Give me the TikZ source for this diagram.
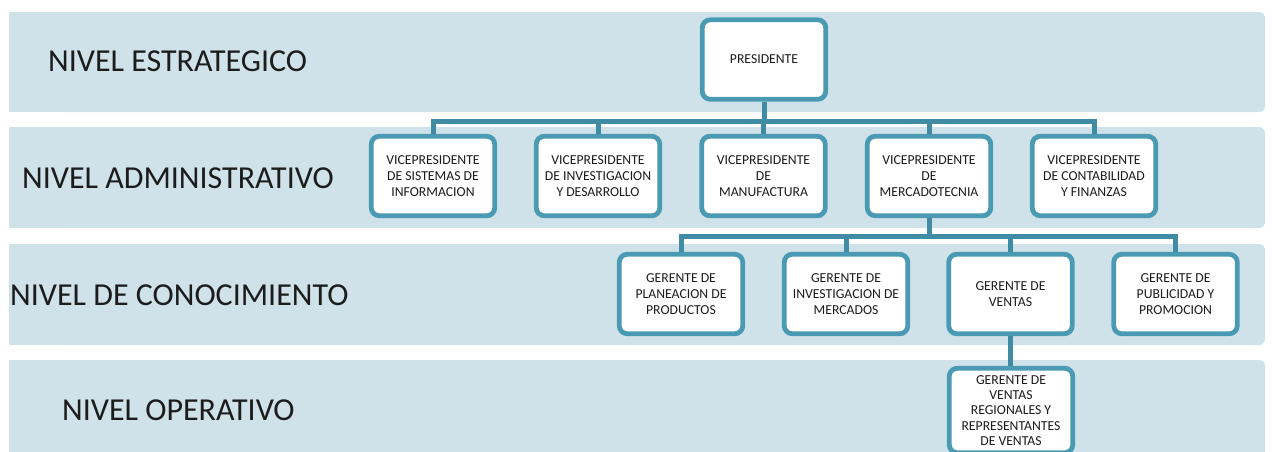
\documentclass[tikz,border=0pt]{standalone}
\usepackage{fontspec}
\setmainfont{Carlito}
\begin{document}
\definecolor{bandfill}{HTML}{D0E2E9}
\definecolor{boxline}{HTML}{4A9AB4}
\definecolor{wire}{HTML}{3F8CA4}
\definecolor{ink}{HTML}{1C1C1C}
\begin{tikzpicture}[x=1pt,y=-1pt,
  levellabel/.style={anchor=west,inner sep=0pt,text=ink,font=\fontsize{32}{34}\selectfont},
  unitbox/.style={draw=boxline,line width=4.8pt,rounded corners=8pt,fill=white,
    minimum width=123.5pt,minimum height=79.5pt,inner sep=0pt,align=center,text=ink,
    font=\fontsize{13.7}{16}\selectfont},
  link/.style={draw=wire,line width=5pt}]
\useasboundingbox (0,0) rectangle (1272,451);
\clip (0,0) rectangle (1272,451);
% level bands: square on the left, rounded on the right
\foreach \top/\bot in {12/112,127/228,244/345,360/470}{
  \fill[bandfill,rounded corners=6pt] (60,\top) rectangle (1265,\bot);
  \fill[bandfill] (9,\top) rectangle (100,\bot);
}
% level names
\node[levellabel] (l1) at (48,61) {NIVEL ESTRATEGICO};
\node[levellabel] (l2) at (22,178) {NIVEL ADMINISTRATIVO};
\node[levellabel] (l3) at (10,295) {NIVEL DE CONOCIMIENTO};
\node[levellabel] (l4) at (62,410) {NIVEL OPERATIVO};
% bus lines
\coordinate (bus1) at (764,121);
\coordinate (bus2) at (929,236);
% units
\node[unitbox] (pres) at (764,59.5) {PRESIDENTE};
\node[unitbox] (v1) at (433,176) {VICEPRESIDENTE\\DE SISTEMAS DE\\INFORMACION};
\node[unitbox] (v2) at (598,176) {VICEPRESIDENTE\\DE INVESTIGACION\\Y DESARROLLO};
\node[unitbox] (v3) at (763.5,176) {VICEPRESIDENTE\\DE\\MANUFACTURA};
\node[unitbox] (v4) at (929,176) {VICEPRESIDENTE\\DE\\MERCADOTECNIA};
\node[unitbox] (v5) at (1094,176) {VICEPRESIDENTE\\DE CONTABILIDAD\\Y FINANZAS};
\node[unitbox] (g1) at (681,294) {GERENTE DE\\PLANEACION DE\\PRODUCTOS};
\node[unitbox] (g2) at (846,294) {GERENTE DE\\INVESTIGACION DE\\MERCADOS};
\node[unitbox] (g3) at (1010.5,294) {GERENTE DE\\VENTAS};
\node[unitbox] (g4) at (1175.5,294) {GERENTE DE\\PUBLICIDAD Y\\PROMOCION};
\node[unitbox,minimum height=84.5pt,font=\fontsize{13.7}{15.2}\selectfont] (o1) at (1011,410.5)
  {GERENTE DE\\VENTAS\\REGIONALES Y\\REPRESENTANTES\\DE VENTAS};
% connectors
\draw[link] (pres.south) -- (pres.south |- bus1);
\draw[link] (v1.north) -- (v1.north |- bus1) -- (v5.north |- bus1) -- (v5.north);
\foreach \n in {v2,v3,v4}{\draw[link] (\n.north) -- (\n.north |- bus1);}
\draw[link] (v4.south) -- (v4.south |- bus2);
\draw[link] (g1.north) -- (g1.north |- bus2) -- (g4.north |- bus2) -- (g4.north);
\foreach \n in {g2,g3}{\draw[link] (\n.north) -- (\n.north |- bus2);}
\draw[link] (g3.south) -- (o1.north -| g3.south);
\end{tikzpicture}
\end{document}
